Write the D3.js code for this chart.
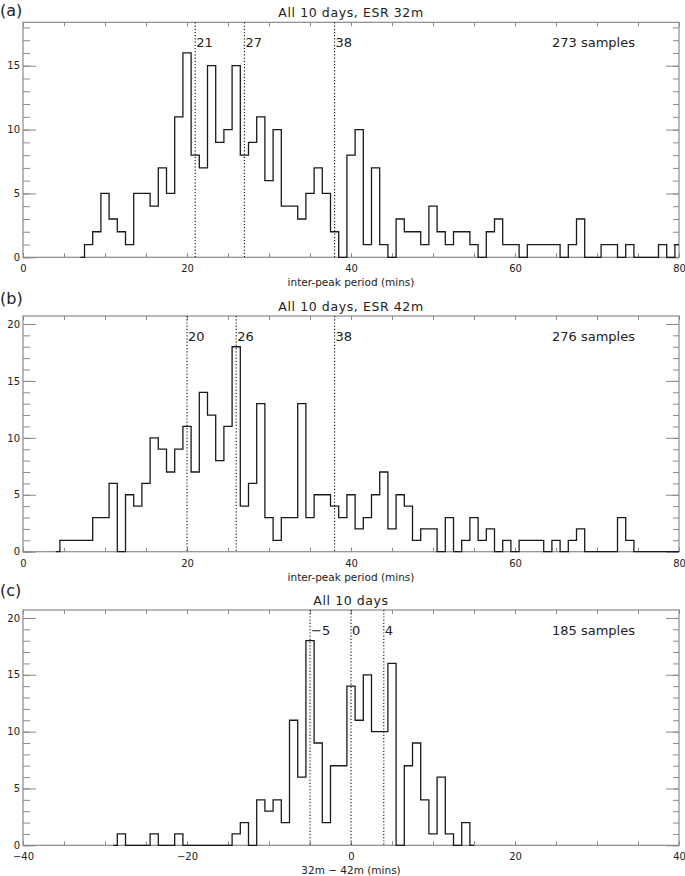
<!DOCTYPE html>
<html><head><meta charset="utf-8">
<script src="https://cdn.jsdelivr.net/npm/d3@7"></script>
<style>
body{margin:0;background:#fff}
svg text{font-family:"DejaVu Sans",sans-serif;fill:#222}
</style></head><body>
<svg id="chart" width="685" height="876"></svg>
<script>
// ---- data ----
const binsA = [7,8,9,10,11,12,13,14,15,16,17,18,19,20,21,22,23,24,25,26,27,28,29,30,31,32,33,34,35,36,37,38,39,40,41,42,43,44,45,46,47,48,49,50,51,52,53,54,55,56,57,58,59,60,61,62,63,64,65,66,67,68,69,70,71,72,73,74,75,76,77,78,79,80];
const countsA = [0,1,2,5,3,2,1,5,5,4, 7,5,11,16,8,7,15,9,10,15, 8,9,11,6,10,4,4,3,5,7, 5,2,0,8,10,1,7,1,0,3, 2,2,1,4,2,1,2,2,1,0, 2,3,1,1,0,1,1,1,1,0, 1,3,0,0,1,1,0,1,0,0, 0,1,0,1];
const markersA = [21, 27, 38];
const samplesA = 273;

const binsB = [4,5,6,7,8,9,10,11,12,13,14,15,16,17,18,19,20,21,22,23,24,25,26,27,28,29,30,31,32,33,34,35,36,37,38,39,40,41,42,43,44,45,46,47,48,49,50,51,52,53,54,55,56,57,58,59,60,61,62,63,64,65,66,67,68,69,70,71,72,73,74,75,76,77,78,79,80];
const countsB = [0,1,1,1,1,3,3,6,0,5, 4,6,10,9,7,9,11,7,14,12, 8,11,18,4,6,13,3,1,3,3, 13,3,5,5,4,3,5,2,3,5, 7,2,5,4,1,2,2,0,3,0, 1,3,1,2,0,1,0,1,1,1, 0,1,0,1,2,0,0,0,0,3, 1,0,0,0,0,0,0];
const markersB = [20, 26, 38];
const samplesB = 276;

const binsC = [-29,-28,-27,-26,-25,-24,-23,-22,-21,-20,-19,-18,-17,-16,-15,-14,-13,-12,-11,-10,-9,-8,-7,-6,-5,-4,-3,-2,-1,0,1,2,3,4,5,6,7,8,9,10,11,12,13,14,15];
const countsC = [0,1,0,0,0,1,0,0,1,0, 0,0,0,0,0,1,2,0,4,3, 4,2,11,6,18,9,2,7,7,14, 11,15,10,10,16,0,7,9,4,1, 6,1,0,2,0];
const markersC = [-5, 0, 4];
const samplesC = 185;

const xTicksAB = [0, 20, 40, 60, 80];
const xTicksC = [-40, -20, 0, 20, 40];
const yTicksA = [0, 5, 10, 15];
const yTicksBC = [0, 5, 10, 15, 20];

const titles = ["All 10 days, ESR 32m", "All 10 days, ESR 42m", "All 10 days"];
const xTitles = ["inter-peak period (mins)", "inter-peak period (mins)", "32m \u2212 42m (mins)"];
const panelLabels = ["(a)", "(b)", "(c)"];

// ---- layout ----
const left = 23, right = 679;
const layout = [
  {top: 22.3, bottom: 257.3, labelY: 16},
  {top: 316, bottom: 551.7, labelY: 304},
  {top: 610, bottom: 845.3, labelY: 596}
];

const panels = [
  {bins: binsA, counts: countsA, markers: markersA, samples: samplesA, xDomain: [0, 80], xTicks: xTicksAB, yTicks: yTicksA},
  {bins: binsB, counts: countsB, markers: markersB, samples: samplesB, xDomain: [0, 80], xTicks: xTicksAB, yTicks: yTicksBC},
  {bins: binsC, counts: countsC, markers: markersC, samples: samplesC, xDomain: [-40, 40], xTicks: xTicksC, yTicks: yTicksBC}
];

const svg = d3.select("#chart");
const frameColor = "#8a8a8a";

panels.forEach((p, i) => {
  const L = layout[i];
  const g = svg.append("g");
  const x = d3.scaleLinear().domain(p.xDomain).range([left, right]);
  const ymax = d3.max(p.counts) * 1.15;
  const y = d3.scaleLinear().domain([0, ymax]).range([L.bottom, L.top]);

  const minorX = d3.range(p.xDomain[0], p.xDomain[1] + 0.1, 5);
  const minorY = d3.range(0, Math.floor(ymax) + 1, 1);

  function styleAxis(sel) {
    sel.select(".domain").remove();
    sel.selectAll(".tick line").attr("stroke", frameColor);
    sel.selectAll(".tick text").attr("font-size", 10).attr("font-family", "DejaVu Sans").attr("fill", "#222");
  }

  // bottom axis
  g.append("g").attr("transform", `translate(0,${L.bottom})`)
    .call(d3.axisBottom(x).tickValues(minorX).tickSize(-4).tickFormat(""))
    .call(styleAxis);
  g.append("g").attr("transform", `translate(0,${L.bottom})`)
    .call(d3.axisBottom(x).tickValues(p.xTicks).tickSize(-4).tickPadding(8))
    .call(styleAxis);
  // top axis
  g.append("g").attr("transform", `translate(0,${L.top})`)
    .call(d3.axisTop(x).tickValues(minorX).tickSize(-4).tickFormat(""))
    .call(styleAxis);
  // left axis
  g.append("g").attr("transform", `translate(${left},0)`)
    .call(d3.axisLeft(y).tickValues(minorY).tickSize(-7).tickFormat(""))
    .call(styleAxis);
  g.append("g").attr("transform", `translate(${left},0)`)
    .call(d3.axisLeft(y).tickValues(p.yTicks).tickSize(-13).tickPadding(3))
    .call(styleAxis);
  // right axis
  g.append("g").attr("transform", `translate(${right},0)`)
    .call(d3.axisRight(y).tickValues(minorY).tickSize(-6).tickFormat(""))
    .call(styleAxis);
  g.append("g").attr("transform", `translate(${right},0)`)
    .call(d3.axisRight(y).tickValues(p.yTicks).tickSize(-13).tickFormat(""))
    .call(styleAxis);

  // frame
  g.append("rect").attr("x", left).attr("y", L.top)
    .attr("width", right - left).attr("height", L.bottom - L.top)
    .attr("fill", "none").attr("stroke", frameColor).attr("stroke-width", 1.2);

  // marker lines
  p.markers.forEach(m => {
    g.append("line").attr("x1", x(m)).attr("x2", x(m))
      .attr("y1", L.top).attr("y2", L.bottom)
      .attr("stroke", "#111").attr("stroke-width", 1.1).attr("stroke-dasharray", "1.2,2");
    g.append("text").attr("x", x(m) + 1).attr("y", L.top + 24.5)
      .attr("font-size", 13).text(d3.format("")(m).replace("-", "\u2212"));
  });

  // histogram
  const pts = p.bins.map((b, k) => [b, p.counts[k]]);
  const line = d3.line().x(d => x(d[0])).y(d => y(d[1])).curve(d3.curveStep);
  g.append("path").attr("d", line(pts)).attr("fill", "none")
    .attr("stroke", "#1a1a1a").attr("stroke-width", 1.3);

  // samples label
  g.append("text").attr("x", 635).attr("y", L.top + 24.5).attr("text-anchor", "end")
    .attr("font-size", 13).text(p.samples + " samples");

  // title
  g.append("text").attr("x", (left + right) / 2).attr("y", L.top - 5)
    .attr("text-anchor", "middle").attr("font-size", 12.5).attr("letter-spacing", 0.6)
    .text(titles[i]);

  // x title
  g.append("text").attr("x", (left + right) / 2).attr("y", L.bottom + 29)
    .attr("text-anchor", "middle").attr("font-size", 10.5).text(xTitles[i]);

  // panel label
  g.append("text").attr("x", 0).attr("y", L.labelY)
    .attr("font-size", 16).text(panelLabels[i]);
});
</script>
</body></html>
